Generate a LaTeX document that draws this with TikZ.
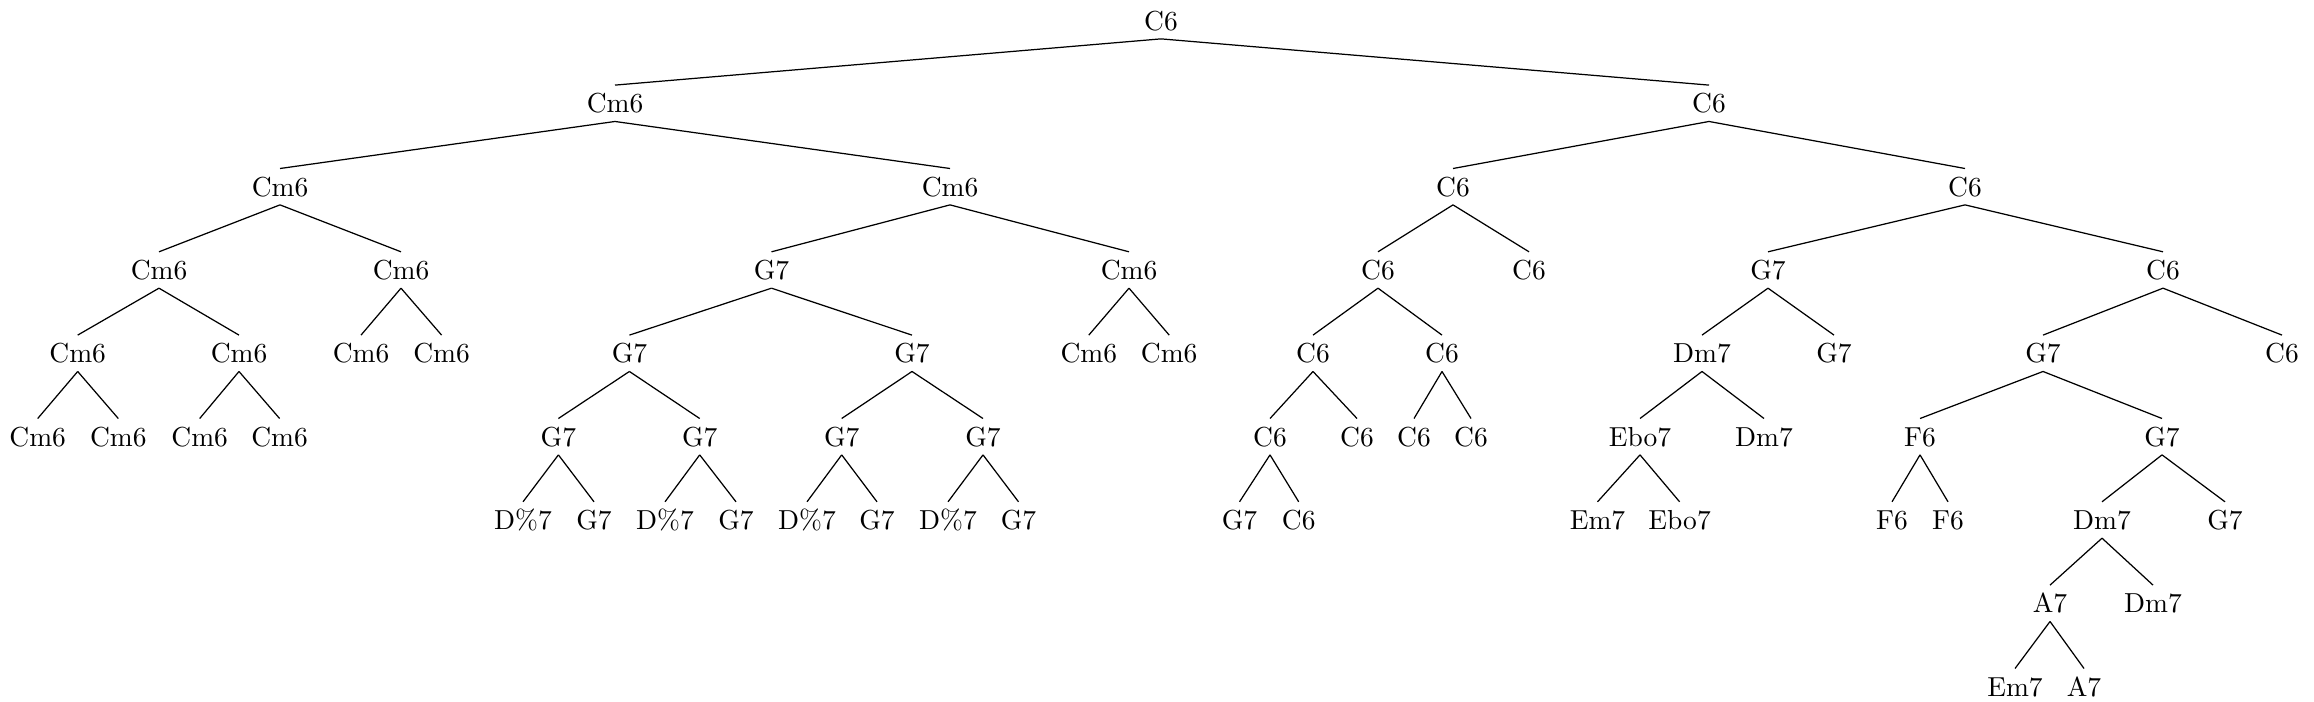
\documentclass[tikz,border=0pt]{standalone}
\begin{document}
\begin{tikzpicture}[x=0.012788cm,y=-0.012788cm,
  chord/.style={inner sep=3pt,text height=6.83pt,text depth=0pt,anchor=center},
  edge/.style={line width=0.45pt}]
\useasboundingbox (0,0) rectangle (2314,702);
\def\LA{20.7}\def\LB{103.3}\def\LC{186.7}\def\LD{270}\def\LE{353.3}
\def\LF{436.7}\def\LG{520}\def\LH{603.3}\def\LI{686.7}
% level 0
\node[chord] (r) at (1161,\LA) {C6};
% level 1
\node[chord] (a) at (615,\LB) {Cm6};
\node[chord] (b) at (1709,\LB) {C6};
% level 2
\node[chord] (aa) at (280,\LC) {Cm6};
\node[chord] (ab) at (950,\LC) {Cm6};
\node[chord] (ba) at (1453,\LC) {C6};
\node[chord] (bb) at (1965,\LC) {C6};
% level 3
\node[chord] (aaa) at (159,\LD) {Cm6};
\node[chord] (aab) at (401,\LD) {Cm6};
\node[chord] (aba) at (771.5,\LD) {G7};
\node[chord] (abb) at (1129,\LD) {Cm6};
\node[chord] (baa) at (1378,\LD) {C6};
\node[chord] (bab) at (1529,\LD) {C6};
\node[chord] (bba) at (1768,\LD) {G7};
\node[chord] (bbb) at (2163,\LD) {C6};
% level 4
\node[chord] (aaaa) at (77.7,\LE) {Cm6};
\node[chord] (aaab) at (239,\LE) {Cm6};
\node[chord] (aaba) at (361,\LE) {Cm6};
\node[chord] (aabb) at (441.6,\LE) {Cm6};
\node[chord] (abaa) at (629.4,\LE) {G7};
\node[chord] (abab) at (912,\LE) {G7};
\node[chord] (abba) at (1088.8,\LE) {Cm6};
\node[chord] (abbb) at (1169.2,\LE) {Cm6};
\node[chord] (baaa) at (1313,\LE) {C6};
\node[chord] (baab) at (1442,\LE) {C6};
\node[chord] (bbaa) at (1702,\LE) {Dm7};
\node[chord] (bbab) at (1834,\LE) {G7};
\node[chord] (bbba) at (2043,\LE) {G7};
\node[chord] (bbbb) at (2282,\LE) {C6};
% level 5
\node[chord] (f1) at (37.7,\LF) {Cm6};
\node[chord] (f2) at (118.3,\LF) {Cm6};
\node[chord] (f3) at (199.7,\LF) {Cm6};
\node[chord] (f4) at (279.6,\LF) {Cm6};
\node[chord] (f5) at (558.4,\LF) {G7};
\node[chord] (f6) at (699.7,\LF) {G7};
\node[chord] (f7) at (841.7,\LF) {G7};
\node[chord] (f8) at (983,\LF) {G7};
\node[chord] (f9) at (1270,\LF) {C6};
\node[chord] (f10) at (1357,\LF) {C6};
\node[chord] (f11) at (1414,\LF) {C6};
\node[chord] (f12) at (1471,\LF) {C6};
\node[chord] (f13) at (1640,\LF) {Ebo7};
\node[chord] (f14) at (1764,\LF) {Dm7};
\node[chord] (f15) at (1920,\LF) {F6};
\node[chord] (f16) at (2162,\LF) {G7};
% level 6
\node[chord] (g1) at (523,\LG) {D\%7};
\node[chord] (g2) at (594,\LG) {G7};
\node[chord] (g3) at (665,\LG) {D\%7};
\node[chord] (g4) at (736,\LG) {G7};
\node[chord] (g5) at (807,\LG) {D\%7};
\node[chord] (g6) at (877,\LG) {G7};
\node[chord] (g7) at (948,\LG) {D\%7};
\node[chord] (g8) at (1018.5,\LG) {G7};
\node[chord] (g9) at (1239.5,\LG) {G7};
\node[chord] (g10) at (1298.7,\LG) {C6};
\node[chord] (g11) at (1597.5,\LG) {Em7};
\node[chord] (g12) at (1679.6,\LG) {Ebo7};
\node[chord] (g13) at (1892,\LG) {F6};
\node[chord] (g14) at (1948,\LG) {F6};
\node[chord] (g15) at (2102,\LG) {Dm7};
\node[chord] (g16) at (2225,\LG) {G7};
% level 7
\node[chord] (h1) at (2050,\LH) {A7};
\node[chord] (h2) at (2153,\LH) {Dm7};
% level 8
\node[chord] (i1) at (2015,\LI) {Em7};
\node[chord] (i2) at (2084,\LI) {A7};
% edges
\foreach \p/\c in {r/a,r/b,a/aa,a/ab,b/ba,b/bb,
  aa/aaa,aa/aab,ab/aba,ab/abb,ba/baa,ba/bab,bb/bba,bb/bbb,
  aaa/aaaa,aaa/aaab,aab/aaba,aab/aabb,aba/abaa,aba/abab,abb/abba,abb/abbb,
  baa/baaa,baa/baab,bba/bbaa,bba/bbab,bbb/bbba,bbb/bbbb,
  aaaa/f1,aaaa/f2,aaab/f3,aaab/f4,abaa/f5,abaa/f6,abab/f7,abab/f8,
  baaa/f9,baaa/f10,baab/f11,baab/f12,bbaa/f13,bbaa/f14,bbba/f15,bbba/f16,
  f5/g1,f5/g2,f6/g3,f6/g4,f7/g5,f7/g6,f8/g7,f8/g8,
  f9/g9,f9/g10,f13/g11,f13/g12,f15/g13,f15/g14,f16/g15,f16/g16,
  g15/h1,g15/h2,h1/i1,h1/i2}
  \draw[edge] (\p.south) -- (\c.north);
\end{tikzpicture}
\end{document}
